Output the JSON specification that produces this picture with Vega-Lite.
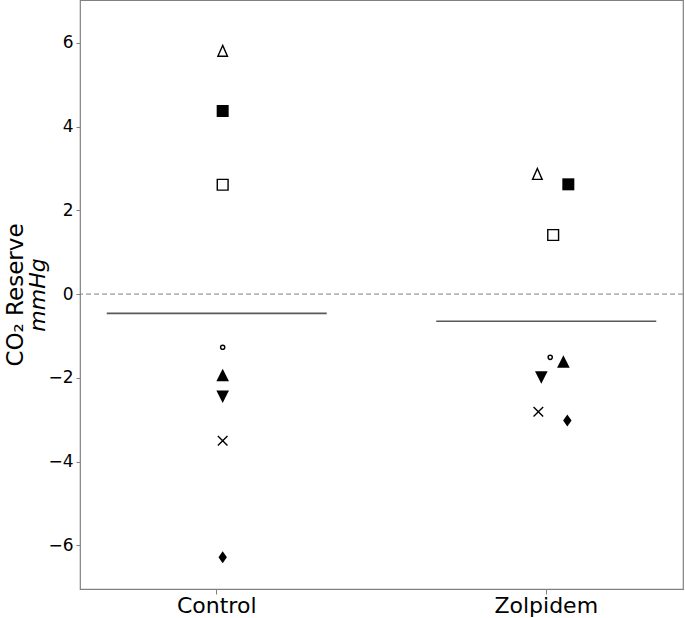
{
  "$schema": "https://vega.github.io/schema/vega-lite/v6.json",
  "width": 603,
  "height": 589,
  "autosize": {"type": "none"},
  "padding": {"left": 80, "top": 0, "right": 2, "bottom": 29},
  "background": "white",
  "config": {
    "font": "DejaVu Sans",
    "view": {"stroke": "#808080", "strokeWidth": 1.2},
    "axis": {"grid": false, "domain": false, "tickColor": "#808080", "labelColor": "black", "titleColor": "black", "labelFont": "DejaVu Sans", "titleFont": "DejaVu Sans", "titleFontWeight": "normal"}
  },
  "datasets": {
    "points": [
      {"group": "Control", "subject": "S1", "co2": 5.8, "jitter": 0.018},
      {"group": "Control", "subject": "S2", "co2": 4.37, "jitter": 0.018},
      {"group": "Control", "subject": "S3", "co2": 2.61, "jitter": 0.018},
      {"group": "Control", "subject": "S4", "co2": -1.27, "jitter": 0.018},
      {"group": "Control", "subject": "S5", "co2": -1.93, "jitter": 0.018},
      {"group": "Control", "subject": "S6", "co2": -2.45, "jitter": 0.018},
      {"group": "Control", "subject": "S7", "co2": -3.5, "jitter": 0.018},
      {"group": "Control", "subject": "S8", "co2": -6.28, "jitter": 0.018},
      {"group": "Zolpidem", "subject": "S1", "co2": 2.86, "jitter": -0.027},
      {"group": "Zolpidem", "subject": "S2", "co2": 2.62, "jitter": 0.067},
      {"group": "Zolpidem", "subject": "S3", "co2": 1.41, "jitter": 0.021},
      {"group": "Zolpidem", "subject": "S4", "co2": -1.51, "jitter": 0.012},
      {"group": "Zolpidem", "subject": "S5", "co2": -1.61, "jitter": 0.052},
      {"group": "Zolpidem", "subject": "S6", "co2": -1.99, "jitter": -0.015},
      {"group": "Zolpidem", "subject": "S7", "co2": -2.81, "jitter": -0.024},
      {"group": "Zolpidem", "subject": "S8", "co2": -3.02, "jitter": 0.064}
    ],
    "means": [
      {"group": "Control", "mean": -0.46},
      {"group": "Zolpidem", "mean": -0.65}
    ],
    "zero": [{"ref": 0}]
  },
  "layer": [
    {
      "data": {"name": "zero"},
      "mark": {"type": "rule", "color": "#808080", "strokeDash": [5, 3], "strokeWidth": 1},
      "encoding": {
        "y": {"field": "ref", "type": "quantitative",
          "scale": {"domain": [-7.04, 7.02], "nice": false, "zero": false},
          "axis": {"orient": "left", "title": "CO₂ Reserve", "labels": false, "ticks": false, "domain": false, "titleFontSize": 23, "titlePadding": 53}}
      }
    },
    {
      "data": {"name": "means"},
      "mark": {"type": "tick", "color": "#111111", "thickness": 1.6, "size": 220},
      "encoding": {
        "x": {"field": "group", "type": "nominal",
          "scale": {"type": "band", "domain": ["Control", "Zolpidem"], "paddingInner": 0.5, "paddingOuter": 0.165},
          "axis": {"title": null, "labelAngle": 0, "labelFontSize": 22, "tickSize": 5, "labelPadding": 1}},
        "y": {"field": "mean", "type": "quantitative",
          "scale": {"domain": [-7.04, 7.02], "nice": false, "zero": false}, "axis": null}
      }
    },
    {
      "data": {"name": "points"},
      "transform": [{"filter": {"field": "subject", "oneOf": ["S2", "S5", "S6", "S8"]}}],
      "mark": {"type": "point", "filled": true, "fill": "black", "strokeWidth": 0, "size": 144, "opacity": 1},
      "encoding": {
        "x": {"field": "group", "type": "nominal",
          "scale": {"type": "band", "domain": ["Control", "Zolpidem"], "paddingInner": 0.5, "paddingOuter": 0.165},
          "axis": {"title": null, "labelAngle": 0, "labelFontSize": 22, "tickSize": 5, "labelPadding": 1}},
        "xOffset": {"field": "jitter", "type": "quantitative", "scale": {"domain": [-0.25, 0.25], "nice": false, "zero": false}},
        "y": {"field": "co2", "type": "quantitative",
          "scale": {"domain": [-7.04, 7.02], "nice": false, "zero": false},
          "axis": {"orient": "left", "title": "mmHg", "titleFontStyle": "italic", "titleFontSize": 22, "labelFontSize": 17, "tickSize": 4, "labelPadding": 3, "values": [-6, -4, -2, 0, 2, 4, 6], "titlePadding": -2}},
        "shape": {"field": "subject", "type": "nominal", "legend": null,
          "scale": {"domain": ["S1", "S2", "S3", "S4", "S5", "S6", "S7", "S8"],
            "range": [
              "M0,-0.95L0.8,0.85L-0.8,0.85Z",
              "M-1,-1H1V1H-1Z",
              "M-0.9,-0.9H0.9V0.9H-0.9Z",
              "M0.35,0A0.35,0.35 0 1,1 -0.35,0A0.35,0.35 0 1,1 0.35,0Z",
              "M0,-1.05L1.05,1.05L-1.05,1.05Z",
              "M-1.05,-1.05L1.05,-1.05L0,1.05Z",
              "M-0.8,-0.8L0.8,0.8M0.8,-0.8L-0.8,0.8",
              "M0,-1L0.7,0L0,1L-0.7,0Z"
            ]}}
      }
    },
    {
      "data": {"name": "points"},
      "transform": [{"filter": {"field": "subject", "oneOf": ["S1", "S3", "S4", "S7"]}}],
      "mark": {"type": "point", "filled": false, "stroke": "black", "strokeWidth": 1.4, "size": 144, "opacity": 1},
      "encoding": {
        "x": {"field": "group", "type": "nominal",
          "scale": {"type": "band", "domain": ["Control", "Zolpidem"], "paddingInner": 0.5, "paddingOuter": 0.165},
          "axis": {"title": null, "labelAngle": 0, "labelFontSize": 22, "tickSize": 5, "labelPadding": 1}},
        "xOffset": {"field": "jitter", "type": "quantitative", "scale": {"domain": [-0.25, 0.25], "nice": false, "zero": false}},
        "y": {"field": "co2", "type": "quantitative",
          "scale": {"domain": [-7.04, 7.02], "nice": false, "zero": false}, "axis": null},
        "shape": {"field": "subject", "type": "nominal", "legend": null,
          "scale": {"domain": ["S1", "S2", "S3", "S4", "S5", "S6", "S7", "S8"],
            "range": [
              "M0,-0.95L0.8,0.85L-0.8,0.85Z",
              "M-1,-1H1V1H-1Z",
              "M-0.9,-0.9H0.9V0.9H-0.9Z",
              "M0.35,0A0.35,0.35 0 1,1 -0.35,0A0.35,0.35 0 1,1 0.35,0Z",
              "M0,-1.05L1.05,1.05L-1.05,1.05Z",
              "M-1.05,-1.05L1.05,-1.05L0,1.05Z",
              "M-0.8,-0.8L0.8,0.8M0.8,-0.8L-0.8,0.8",
              "M0,-1L0.7,0L0,1L-0.7,0Z"
            ]}}
      }
    }
  ],
  "resolve": {"axis": {"y": "independent"}}
}
